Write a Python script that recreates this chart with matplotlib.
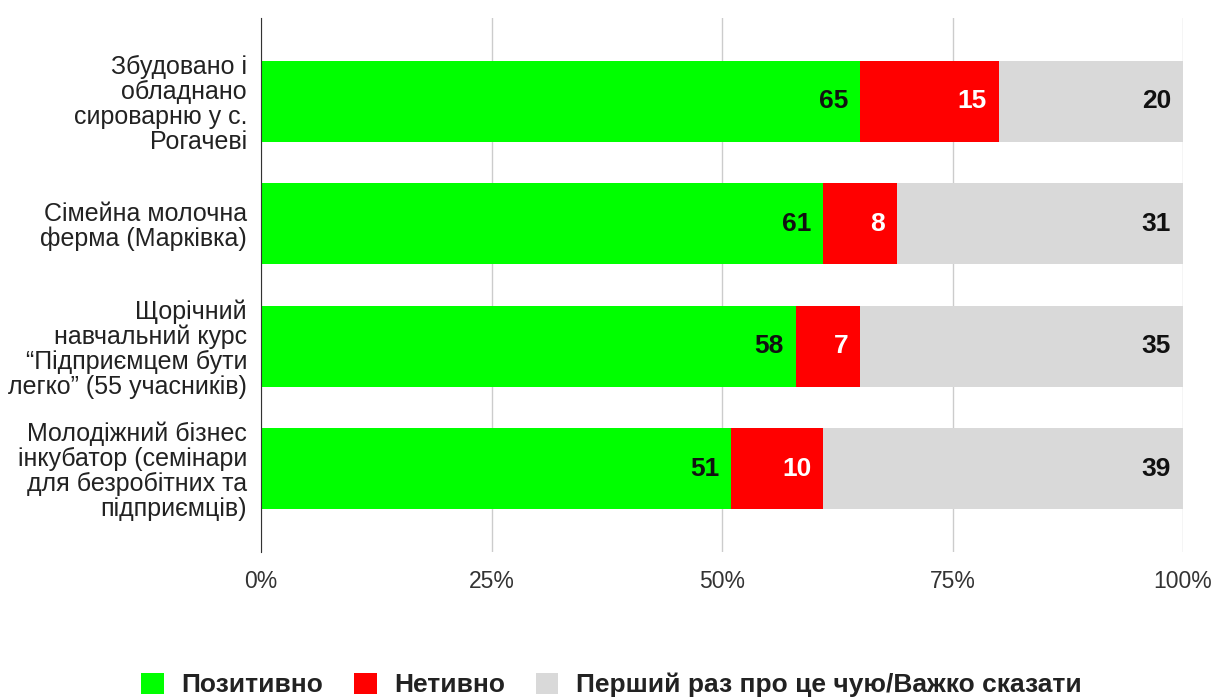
import matplotlib
matplotlib.use("Agg")
import matplotlib.pyplot as plt
from matplotlib.patches import Patch

plt.rcParams['font.family'] = ['Liberation Sans', 'DejaVu Sans']

# ── data ────────────────────────────────────────────────────────────────
categories = [
    'Збудовано і\nобладнано\nсироварню у с.\nРогачеві',
    'Сімейна молочна\nферма (Марківка)',
    'Щорічний\nнавчальний курс\n“Підприємцем бути\nлегко” (55 учасників)',
    'Молодіжний бізнес\nінкубатор (семінари\nдля безробітних та\nпідприємців)',
]
positive = [65, 61, 58, 51]
negative = [15, 8, 7, 10]
unknown = [20, 31, 35, 39]
series_names = ['Позитивно', 'Нетивно', 'Перший раз про це чую/Важко сказати']
tick_vals = [0, 25, 50, 75, 100]
tick_labels = ['0%', '25%', '50%', '75%', '100%']

colors = ['#00ff00', '#ff0000', '#d9d9d9']
text_colors = ['#111111', 'white', '#111111']

# ── plot ────────────────────────────────────────────────────────────────
fig = plt.figure(figsize=(12.18, 6.97), dpi=100)
ax = fig.add_axes([261 / 1218, 1 - 552 / 697, (1183 - 261) / 1218, (552 - 18) / 697])

y = list(range(len(categories)))
left = [0] * len(categories)
for vals, col, tcol in zip([positive, negative, unknown], colors, text_colors):
    ax.barh(y, vals, left=left, height=0.66, color=col, zorder=2)
    for yi, l, v in zip(y, left, vals):
        ax.annotate(str(v), (l + v, yi), xytext=(-8.5, 0), textcoords='offset points',
                    ha='right', va='center', fontsize=19, fontweight='bold',
                    color=tcol, zorder=3)
    left = [a + b for a, b in zip(left, vals)]

ax.set_xlim(0, 100)
ax.set_ylim(3.68, -0.68)
ax.set_yticks(y)
ax.set_yticklabels(categories, fontsize=18, color='#222222', linespacing=1.05)
ax.set_xticks(tick_vals)
ax.set_xticklabels(tick_labels, fontsize=16.5, color='#333333')
ax.tick_params(axis='both', length=0)
ax.tick_params(axis='x', pad=13)
ax.tick_params(axis='y', pad=10)
ax.grid(axis='x', color='#cccccc', linewidth=1, zorder=0)
for s in ['top', 'right', 'bottom']:
    ax.spines[s].set_visible(False)
ax.spines['left'].set_color('#333333')
ax.spines['left'].set_zorder(4)

handles = [Patch(facecolor=c, edgecolor='none', label=n) for c, n in zip(colors, series_names)]
leg = fig.legend(handles=handles, loc='center', bbox_to_anchor=(0.502, 1 - 685 / 697),
                 ncol=3, frameon=False, fontsize=19, handlelength=0.87, handleheight=0.87,
                 columnspacing=1.14, handletextpad=0.68, borderpad=0)
for t in leg.get_texts():
    t.set_fontweight('bold')
    t.set_color('#222222')

fig.savefig('out.png', dpi=100)
